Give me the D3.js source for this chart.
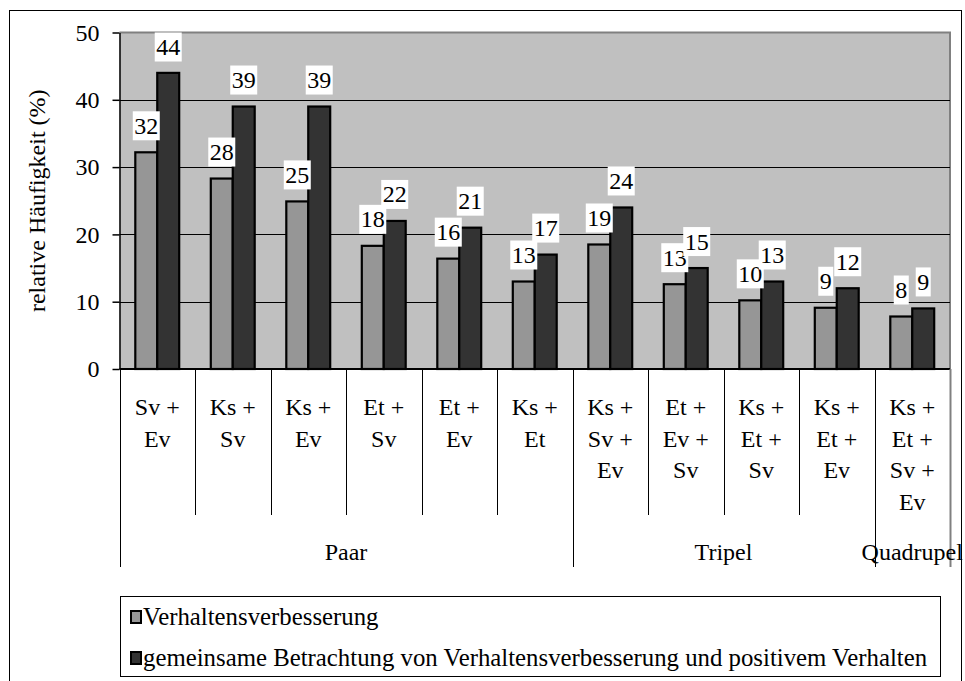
<!DOCTYPE html>
<html lang="de">
<head>
<meta charset="UTF-8">
<title>relative Häufigkeit</title>
<script src="https://d3js.org/d3.v7.min.js"></script>
<style>
  body { margin: 0; background: #ffffff; }
  svg { display: block; }
  text { font-family: "Liberation Serif", "Times New Roman", serif; fill: #000; }
</style>
</head>
<body>
<svg id="chart" width="965" height="681"></svg>
<script>
// --- Daten ---
const categories = [
  ["Sv +", "Ev"], ["Ks +", "Sv"], ["Ks +", "Ev"], ["Et +", "Sv"], ["Et +", "Ev"], ["Ks +", "Et"],
  ["Ks +", "Sv +", "Ev"], ["Et +", "Ev +", "Sv"], ["Ks +", "Et +", "Sv"], ["Ks +", "Et +", "Ev"],
  ["Ks +", "Et +", "Sv +", "Ev"]
];
const groupNames = ["Paar", "Tripel", "Quadrupel"];
const groupSizes = [6, 4, 1];
const seriesNames = [
  "Verhaltensverbesserung",
  "gemeinsame Betrachtung von Verhaltensverbesserung und positivem Verhalten"
];
const improvement = [32.2, 28.3, 24.9, 18.3, 16.4, 13.0, 18.5, 12.6, 10.2, 9.1, 7.8];
const combined = [44, 39, 39, 22, 21, 17, 24, 15, 13, 12, 9];
const yTicks = [0, 10, 20, 30, 40, 50];
const seriesColors = ["#969696", "#333333"];

// --- Layout ---
const svg = d3.select("#chart");
const plot = { left: 119.5, right: 950, top: 32.5, bottom: 369 };
const fontSize = 24;
const serif = "'Liberation Serif', 'Times New Roman', serif";

// äußerer Rahmen (unten außerhalb des Bildes)
svg.append("rect")
  .attr("x", 9.5).attr("y", 10.5)
  .attr("width", 952).attr("height", 680)
  .attr("fill", "none").attr("stroke", "#000").attr("stroke-width", 1);

const keys = categories.map((c, i) => i);
const x0 = d3.scaleBand().domain(keys).range([plot.left, plot.right]).padding(0);
const x1 = d3.scaleBand().domain([0, 1]).range([0, x0.bandwidth()])
  .paddingInner(0).paddingOuter(0.72);
const y = d3.scaleLinear().domain([0, 50]).range([plot.bottom, plot.top]);

// Hintergrund der Zeichenfläche
svg.append("rect")
  .attr("x", plot.left).attr("y", plot.top)
  .attr("width", plot.right - plot.left).attr("height", plot.bottom - plot.top)
  .attr("fill", "#c0c0c0");

// obere und rechte Kante
svg.append("path")
  .attr("d", `M${plot.left},${plot.top}H${plot.right}V${plot.bottom}`)
  .attr("fill", "none").attr("stroke", "#808080").attr("stroke-width", 2);

// Gitterlinien
svg.append("g").selectAll("line")
  .data(yTicks.filter(t => t > 0 && t < 50))
  .join("line")
  .attr("x1", plot.left).attr("x2", plot.right)
  .attr("y1", d => Math.round(y(d)) + 0.5).attr("y2", d => Math.round(y(d)) + 0.5)
  .attr("stroke", "#000").attr("stroke-width", 1);

// Balken
const series = [improvement, combined];
const barG = svg.append("g");
series.forEach((vals, s) => {
  barG.selectAll(null)
    .data(vals)
    .join("rect")
    .attr("x", (d, i) => x0(i) + x1(s))
    .attr("y", d => y(d))
    .attr("width", x1.bandwidth())
    .attr("height", d => y(0) - y(d))
    .attr("fill", seriesColors[s])
    .attr("stroke", "#000")
    .attr("stroke-width", 2.2);
});

// y-Achse
const yAxis = svg.append("g")
  .attr("transform", `translate(${plot.left},0)`)
  .attr("font-family", serif)
  .call(d3.axisLeft(y).tickValues(yTicks).tickSize(7).tickSizeOuter(0).tickPadding(13));
yAxis.attr("font-family", serif);
yAxis.select(".domain").attr("stroke", "#000").attr("stroke-width", 1.5);
yAxis.selectAll(".tick line").attr("stroke", "#000").attr("stroke-width", 1.5);
yAxis.selectAll(".tick text")
  .style("font-family", serif)
  .attr("font-size", fontSize).attr("fill", "#000");

// x-Achsenlinie
svg.append("line")
  .attr("x1", plot.left).attr("x2", plot.right)
  .attr("y1", plot.bottom).attr("y2", plot.bottom)
  .attr("stroke", "#000").attr("stroke-width", 2);

// Titel der y-Achse
svg.append("text")
  .attr("transform", `translate(37,${(plot.top + plot.bottom) / 2}) rotate(-90)`)
  .attr("text-anchor", "middle").attr("dominant-baseline", "central")
  .attr("font-size", fontSize)
  .text("relative Häufigkeit (%)");

// Wertbeschriftungen (grau zuerst, dunkel darüber)
series.forEach((vals, s) => {
  const g = svg.append("g");
  vals.forEach((v, i) => {
    const cx = x0(i) + x1(s) + x1.bandwidth() / 2;
    const lbl = g.append("g");
    const t = lbl.append("text")
      .attr("x", cx)
      .attr("text-anchor", "middle")
      .attr("font-size", fontSize)
      .text(Math.round(v));
    const w = t.node().getComputedTextLength() + 3;
    const h = 29;
    let top = y(v) - 12 - h;
    if (top < plot.top) top = plot.top;
    lbl.insert("rect", "text")
      .attr("x", cx - w / 2).attr("y", top)
      .attr("width", w).attr("height", h)
      .attr("fill", "#fff");
    t.attr("y", top + h / 2 + 8);
  });
});

// Kategorie-Trennlinien und Beschriftungen
const catBottom = 515, groupBottom = 567;
const groupEdges = [0];
groupSizes.forEach(n => groupEdges.push(groupEdges[groupEdges.length - 1] + n));
const edges = d3.range(categories.length + 1);
svg.append("g").selectAll("line")
  .data(edges)
  .join("line")
  .attr("x1", i => Math.round(i < categories.length ? x0(i) : plot.right) + 0.5)
  .attr("x2", i => Math.round(i < categories.length ? x0(i) : plot.right) + 0.5)
  .attr("y1", plot.bottom)
  .attr("y2", i => groupEdges.includes(i) ? groupBottom : catBottom)
  .attr("stroke", i => i === categories.length ? "#808080" : "#000")
  .attr("stroke-width", i => i === categories.length ? 2 : 1);

const catLabels = svg.append("g");
categories.forEach((lines, i) => {
  const t = catLabels.append("text")
    .attr("x", x0(i) + x0.bandwidth() / 2)
    .attr("text-anchor", "middle")
    .attr("font-size", fontSize);
  lines.forEach((ln, k) => {
    t.append("tspan")
      .attr("x", x0(i) + x0.bandwidth() / 2)
      .attr("y", 415 + k * 31.5)
      .text(ln);
  });
});

// Gruppenbeschriftungen
groupNames.forEach((name, gi) => {
  const a = x0(groupEdges[gi]);
  const b = groupEdges[gi + 1] < categories.length ? x0(groupEdges[gi + 1]) : plot.right;
  svg.append("text")
    .attr("x", (a + b) / 2).attr("y", 560)
    .attr("text-anchor", "middle")
    .attr("font-size", fontSize)
    .text(name);
});

// Legende
const legend = svg.append("g");
legend.append("rect")
  .attr("x", 120.5).attr("y", 596.5)
  .attr("width", 820).attr("height", 80)
  .attr("fill", "#fff").attr("stroke", "#000").attr("stroke-width", 1);
seriesNames.forEach((name, s) => {
  const cy = 617 + s * 41;
  legend.append("rect")
    .attr("x", 131).attr("y", cy - 6)
    .attr("width", 10).attr("height", 12)
    .attr("fill", seriesColors[s]).attr("stroke", "#000").attr("stroke-width", 2);
  legend.append("text")
    .attr("x", 143).attr("y", cy + 8)
    .attr("font-size", 24.8)
    .text(name);
});
</script>
</body>
</html>
